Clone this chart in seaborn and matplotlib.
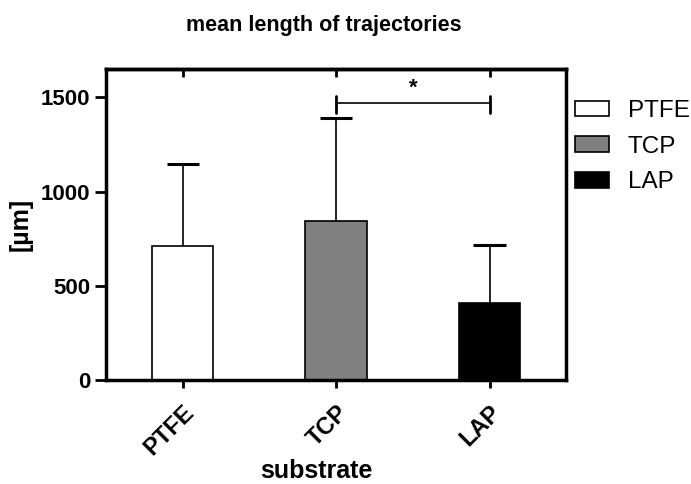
import numpy as np
import pandas as pd
import matplotlib
matplotlib.use("Agg")
import matplotlib.pyplot as plt
import seaborn as sns

substrates = ["PTFE", "TCP", "LAP"]
mean_len = [709, 842, 411]
sd_len = [440, 550, 303]
bar_colors = ["white", "#808080", "black"]
yticks = [0, 500, 1000, 1500]

sns.set_style("ticks")
plt.rcParams['font.family'] = ['Liberation Sans', 'DejaVu Sans']
plt.rcParams['text.color'] = 'black'
plt.rcParams['axes.labelcolor'] = 'black'
plt.rcParams['xtick.color'] = 'black'
plt.rcParams['ytick.color'] = 'black'
plt.rcParams['axes.edgecolor'] = 'black'

df = pd.DataFrame({'substrate': substrates, 'length': mean_len})

fig = plt.figure(figsize=(6.91, 4.84), dpi=100)
ax = fig.add_axes([0.1534, 0.215, 0.666, 0.642])

sns.barplot(data=df, x='substrate', y='length', hue='substrate',
            palette=dict(zip(substrates, bar_colors)), width=0.4,
            edgecolor='black', linewidth=1.2, errorbar=None,
            legend=True, ax=ax, zorder=2)

# upper error bars only (line + cap)
xs = np.arange(len(substrates))
tops = np.array(mean_len) + np.array(sd_len)
ax.vlines(xs, mean_len, tops, color='black', lw=1.2, zorder=1)
ax.hlines(tops, xs - 0.105, xs + 0.105, color='black', lw=2.2, zorder=1)

# significance bracket TCP vs LAP
yb = 1468
ax.plot([1, 2], [yb, yb], color='black', lw=1.2)
ax.plot([1, 1], [1420, 1510], color='black', lw=2)
ax.plot([2, 2], [1420, 1510], color='black', lw=2)
ax.text(1.5, 1495, '*', ha='center', va='bottom', fontsize=16, fontweight='bold')

ax.set_xlim(-0.5, 2.5)
ax.set_ylim(0, 1650)
ax.set_yticks(yticks)

for s in ax.spines.values():
    s.set_visible(True)
    s.set_linewidth(2.5)
    s.set_color('black')

ax.tick_params(axis='y', direction='out', length=8, width=2, labelsize=16)
ax.tick_params(axis='x', direction='out', length=6, width=2, labelsize=17, pad=9)
for lab in ax.get_xticklabels() + ax.get_yticklabels():
    lab.set_fontweight('bold')
plt.setp(ax.get_xticklabels(), rotation=45, ha='right', rotation_mode='anchor')

# inward ticks on top spine
sec = ax.secondary_xaxis('top')
sec.set_xticks(xs)
sec.set_xticklabels([])
sec.tick_params(direction='in', length=6, width=2, color='black')
sec.spines['top'].set_linewidth(2.5)

ax.set_xlabel('substrate', fontsize=18, fontweight='bold')
ax.xaxis.set_label_coords(0.458, -0.255)
ax.set_ylabel('[µm]', fontsize=18, fontweight='bold')
ax.yaxis.set_label_coords(-0.159, 0.5)
fig.text(323.5 / 691, 1 - 25 / 484, 'mean length of trajectories',
         ha='center', va='center', fontsize=15.5, fontweight='bold')

leg = ax.legend(loc='upper left', bbox_to_anchor=(575 / 691, 1 - 100 / 484),
                bbox_transform=fig.transFigure, frameon=False,
                fontsize=17.5, handlelength=1.4, handleheight=0.62,
                handletextpad=0.78, labelspacing=0.56, borderaxespad=0,
                borderpad=0)
for h in leg.legend_handles:
    h.set_edgecolor('black')
    h.set_linewidth(1.2)

fig.savefig('out.png', dpi=100)
